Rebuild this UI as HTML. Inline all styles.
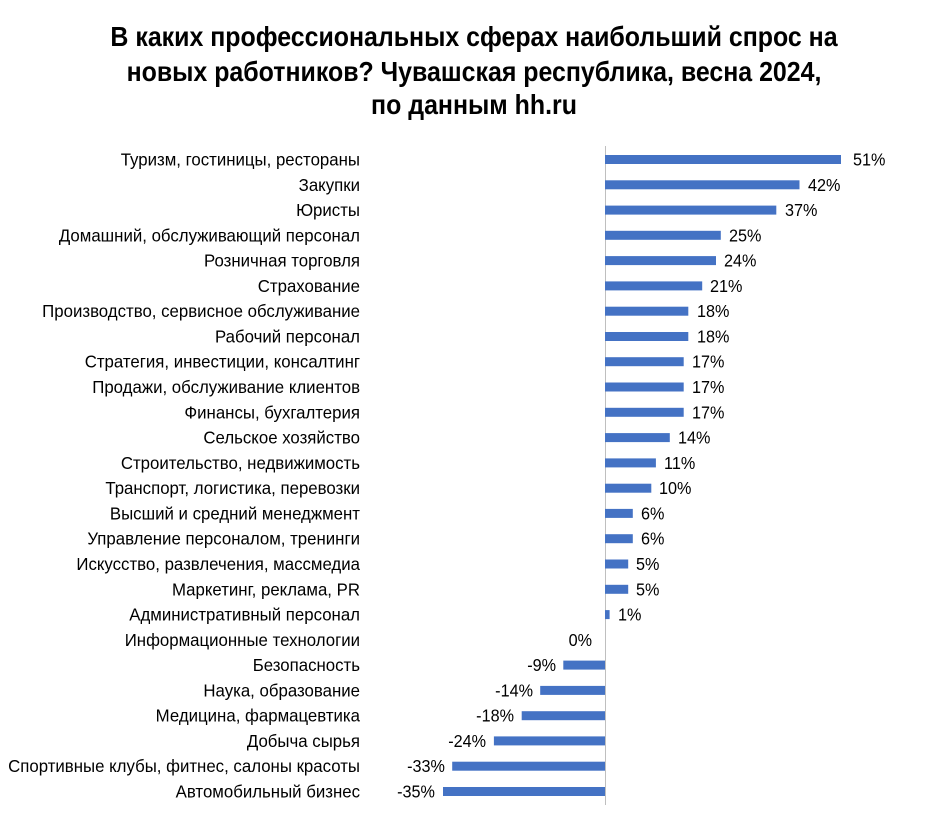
<!DOCTYPE html>
<html><head><meta charset="utf-8"><style>
html,body{margin:0;padding:0;background:#fff;}
svg{display:block;font-family:"Liberation Sans",Arial,sans-serif;}
</style></head><body>
<svg width="949" height="827" viewBox="0 0 949 827" xmlns="http://www.w3.org/2000/svg">
<g font-weight="bold" font-size="28" fill="#000" text-anchor="middle">
<g transform="translate(474,0) scale(0.89,1)">
<text x="0" y="46">В каких профессиональных сферах наибольший спрос на</text>
<text x="0" y="81">новых работников? Чувашская республика, весна 2024,</text>
<text x="0" y="114">по данным hh.ru</text>
</g></g>
<line x1="605.5" y1="146" x2="605.5" y2="805" stroke="#bfbfbf" stroke-width="1"/>
<g fill="#4472c4">
<rect x="605" y="155" width="236" height="9"/>
<rect x="605" y="180.3" width="194.5" height="9"/>
<rect x="605" y="205.6" width="171.3" height="9"/>
<rect x="605" y="230.8" width="115.8" height="9"/>
<rect x="605" y="256.1" width="111" height="9"/>
<rect x="605" y="281.4" width="97.2" height="9"/>
<rect x="605" y="306.7" width="83.3" height="9"/>
<rect x="605" y="332" width="83.3" height="9"/>
<rect x="605" y="357.2" width="78.7" height="9"/>
<rect x="605" y="382.5" width="78.7" height="9"/>
<rect x="605" y="407.8" width="78.7" height="9"/>
<rect x="605" y="433.1" width="64.8" height="9"/>
<rect x="605" y="458.4" width="50.9" height="9"/>
<rect x="605" y="483.7" width="46.3" height="9"/>
<rect x="605" y="508.9" width="27.8" height="9"/>
<rect x="605" y="534.2" width="27.8" height="9"/>
<rect x="605" y="559.5" width="23.2" height="9"/>
<rect x="605" y="584.8" width="23.2" height="9"/>
<rect x="605" y="610.1" width="4.6" height="9"/>
<rect x="563.3" y="660.6" width="41.7" height="9"/>
<rect x="540.2" y="685.9" width="64.8" height="9"/>
<rect x="521.7" y="711.2" width="83.3" height="9"/>
<rect x="493.9" y="736.4" width="111.1" height="9"/>
<rect x="452.2" y="761.7" width="152.8" height="9"/>
<rect x="443" y="787" width="162" height="9"/>
</g>
<g font-size="18" fill="#000" text-anchor="end" transform="translate(360,0) scale(0.935,1)">
<text x="0" y="165.5">Туризм, гостиницы, рестораны</text>
<text x="0" y="190.8">Закупки</text>
<text x="0" y="216.1">Юристы</text>
<text x="0" y="241.3">Домашний, обслуживающий персонал</text>
<text x="0" y="266.6">Розничная торговля</text>
<text x="0" y="291.9">Страхование</text>
<text x="0" y="317.2">Производство, сервисное обслуживание</text>
<text x="0" y="342.5">Рабочий персонал</text>
<text x="0" y="367.7">Стратегия, инвестиции, консалтинг</text>
<text x="0" y="393">Продажи, обслуживание клиентов</text>
<text x="0" y="418.3">Финансы, бухгалтерия</text>
<text x="0" y="443.6">Сельское хозяйство</text>
<text x="0" y="468.9">Строительство, недвижимость</text>
<text x="0" y="494.2">Транспорт, логистика, перевозки</text>
<text x="0" y="519.4">Высший и средний менеджмент</text>
<text x="0" y="544.7">Управление персоналом, тренинги</text>
<text x="0" y="570">Искусство, развлечения, массмедиа</text>
<text x="0" y="595.3">Маркетинг, реклама, PR</text>
<text x="0" y="620.6">Административный персонал</text>
<text x="0" y="645.8">Информационные технологии</text>
<text x="0" y="671.1">Безопасность</text>
<text x="0" y="696.4">Наука, образование</text>
<text x="0" y="721.7">Медицина, фармацевтика</text>
<text x="0" y="747">Добыча сырья</text>
<text x="0" y="772.2">Спортивные клубы, фитнес, салоны красоты</text>
<text x="0" y="797.5">Автомобильный бизнес</text>
</g>
<g font-size="18" fill="#000" transform="scale(0.9,1)">
<text x="947.8" y="165.5">51%</text>
<text x="897.8" y="190.8">42%</text>
<text x="872.2" y="216.1">37%</text>
<text x="810" y="241.3">25%</text>
<text x="804.4" y="266.6">24%</text>
<text x="788.9" y="291.9">21%</text>
<text x="774.4" y="317.2">18%</text>
<text x="774.4" y="342.5">18%</text>
<text x="768.9" y="367.7">17%</text>
<text x="768.9" y="393">17%</text>
<text x="768.9" y="418.3">17%</text>
<text x="753.3" y="443.6">14%</text>
<text x="737.8" y="468.9">11%</text>
<text x="732.2" y="494.2">10%</text>
<text x="712.2" y="519.4">6%</text>
<text x="712.2" y="544.7">6%</text>
<text x="706.7" y="570">5%</text>
<text x="706.7" y="595.3">5%</text>
<text x="686.7" y="620.6">1%</text>
<g text-anchor="end">
<text x="657.8" y="645.8">0%</text>
<text x="617.8" y="671.1">-9%</text>
<text x="592.2" y="696.4">-14%</text>
<text x="571.1" y="721.7">-18%</text>
<text x="540" y="747">-24%</text>
<text x="494.4" y="772.2">-33%</text>
<text x="483.3" y="797.5">-35%</text>
</g>
</g>
</svg>
</body></html>
